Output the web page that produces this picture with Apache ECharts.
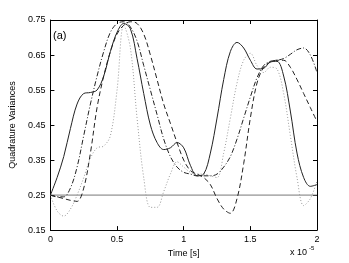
<!DOCTYPE html>
<html><head><meta charset="utf-8">
<script src="https://cdn.jsdelivr.net/npm/echarts@6/dist/echarts.min.js"></script>
<style>html,body{margin:0;padding:0;background:#fff}#c{width:349px;height:263px}</style>
</head><body><div id="c"></div>
<script>
const timeValues = [0,0.05,0.1,0.15,0.2,0.25,0.3,0.35,0.4,0.45,0.5,0.55,0.6,0.65,0.7,0.75,0.8,0.85,0.9,0.95,1.0,1.05,1.1,1.15,1.2,1.25,1.3,1.35,1.4,1.45,1.5,1.55,1.6,1.65,1.7,1.75,1.8,1.85,1.9,1.95,2.0];
const solidValues = [0.25,0.30,0.36,0.44,0.51,0.54,0.543,0.55,0.59,0.66,0.715,0.74,0.725,0.64,0.54,0.45,0.40,0.38,0.385,0.40,0.385,0.335,0.305,0.31,0.37,0.47,0.58,0.66,0.686,0.67,0.635,0.61,0.612,0.63,0.632,0.59,0.49,0.37,0.30,0.275,0.28];
const dottedValues = [0.25,0.205,0.19,0.21,0.25,0.30,0.355,0.385,0.39,0.42,0.55,0.735,0.67,0.47,0.30,0.215,0.215,0.26,0.31,0.345,0.33,0.315,0.31,0.31,0.305,0.30,0.37,0.47,0.57,0.635,0.655,0.62,0.60,0.615,0.61,0.54,0.42,0.30,0.22,0.24,0.29];
const dashDotValues = [0.25,0.245,0.245,0.27,0.33,0.42,0.51,0.59,0.66,0.715,0.74,0.745,0.73,0.69,0.62,0.55,0.48,0.41,0.36,0.33,0.315,0.31,0.305,0.305,0.305,0.31,0.33,0.36,0.41,0.47,0.53,0.585,0.62,0.632,0.635,0.64,0.652,0.665,0.67,0.65,0.60];
const dashedValues = [0.25,0.245,0.24,0.235,0.232,0.27,0.37,0.50,0.59,0.66,0.71,0.735,0.745,0.74,0.71,0.65,0.58,0.51,0.455,0.40,0.35,0.32,0.31,0.30,0.28,0.24,0.21,0.198,0.24,0.34,0.47,0.57,0.615,0.63,0.635,0.635,0.615,0.58,0.54,0.50,0.46];
const referenceLevel = 0.25;
const xTickLabels = ['0','0.5','1','1.5','2'];
const yTickLabels = ['0.15','0.25','0.35','0.45','0.55','0.65','0.75'];

const pairs = arr => timeValues.map((t,i)=>[t,arr[i]]);
const font = 'Liberation Sans';
const chart = echarts.init(document.getElementById('c'), null, {renderer:'canvas'});
const axisCommon = {
  min: null, max: null,
  axisLine:{show:true, onZero:false, lineStyle:{color:'#000', width:1}},
  axisTick:{show:true, inside:true, length:4, lineStyle:{color:'#000'}},
  splitLine:{show:false}
};
const xLbl = v => { const s = xTickLabels.find(l => Math.abs(parseFloat(l)-v)<1e-6); return s===undefined?'':s; };
const yLbl = v => { const s = yTickLabels.find(l => Math.abs(parseFloat(l)-v)<1e-6); return s===undefined?'':s; };
chart.setOption({
  animation:false,
  grid:{left:45, right:32, top:20, bottom:29, containLabel:false},
  xAxis:[
    Object.assign({}, axisCommon, {type:'value', position:'bottom', min:0, max:2, interval:0.5,
      axisLabel:{formatter:xLbl, color:'#000', fontFamily:font, fontSize:9, margin:5},
      name:'Time [s]', nameLocation:'middle', nameGap:15, nameTextStyle:{color:'#000', fontFamily:font, fontSize:9}}),
    Object.assign({}, axisCommon, {type:'value', position:'top', min:0, max:2, interval:0.5, axisLabel:{show:false}})
  ],
  yAxis:[
    Object.assign({}, axisCommon, {type:'value', position:'left', min:0.15, max:0.75, interval:0.1,
      axisLabel:{formatter:yLbl, color:'#000', fontFamily:font, fontSize:9, margin:5},
      name:'Quadrature Variances', nameLocation:'middle', nameGap:29, nameTextStyle:{color:'#000', fontFamily:font, fontSize:9}}),
    Object.assign({}, axisCommon, {type:'value', position:'right', min:0.15, max:0.75, interval:0.1, axisLabel:{show:false}})
  ],
  series:[
    {type:'line', data:[[0,referenceLevel],[2,referenceLevel]], symbol:'none', lineStyle:{color:'#777', width:1}, z:1},
    {type:'line', data:pairs(dottedValues), smooth:0.35, symbol:'none', lineStyle:{color:'#999', width:1, type:[1,2]}},
    {type:'line', data:pairs(dashDotValues), smooth:0.35, symbol:'none', lineStyle:{color:'#222', width:1, type:[5,2,1,2]}},
    {type:'line', data:pairs(dashedValues), smooth:0.35, symbol:'none', lineStyle:{color:'#222', width:1, type:[5,3]}},
    {type:'line', data:pairs(solidValues), smooth:0.35, symbol:'none', lineStyle:{color:'#222', width:1}}
  ],
  graphic:[
    {type:'text', left:53, top:30, style:{text:'(a)', font:'11px "Liberation Sans"', fill:'#000'}},
    {type:'text', left:290, top:248, style:{text:'x 10', font:'9px "Liberation Sans"', fill:'#000'}},
    {type:'text', left:309, top:245, style:{text:'-5', font:'6px "Liberation Sans"', fill:'#000'}}
  ]
});
</script></body></html>
